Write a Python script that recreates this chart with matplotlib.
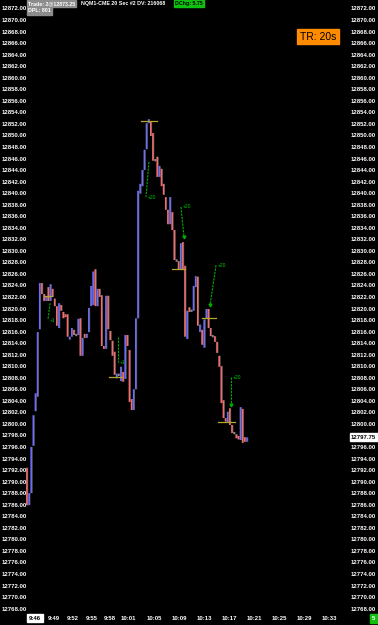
import matplotlib.pyplot as plt

# 20 second bars, NQM1-CME (open / close)
opens = [12792.5, 12786.0, 12788.1, 12796.3, 12802.3, 12804.8, 12816.5, 12824.5, 12822.6, 12821.4,
         12823.8, 12821.4, 12823.5, 12821.8, 12820.5, 12816.7, 12820.7, 12819.5, 12819.1, 12819.1,
         12814.7, 12815.2, 12816.4, 12815.5, 12815.5, 12818.4, 12811.9, 12815.7, 12815.0, 12816.0,
         12820.5, 12820.7, 12826.9, 12820.5, 12823.5, 12822.4, 12813.6, 12813.1, 12822.3, 12816.2,
         12814.5, 12812.6, 12808.0, 12808.6, 12807.5, 12809.1, 12807.9, 12815.5, 12812.9, 12804.4,
         12802.5, 12806.1, 12818.4, 12840.0, 12841.3, 12844.1, 12847.7, 12852.2, 12852.4, 12850.5,
         12846.0, 12846.4, 12842.9, 12844.3, 12841.7, 12839.4, 12837.2, 12834.7, 12836.8, 12833.7,
         12828.5, 12828.3, 12826.8, 12831.6, 12827.5, 12814.8, 12820.3, 12819.8, 12819.7, 12823.8,
         12825.6, 12816.0, 12816.4, 12813.3, 12818.4, 12820.0, 12816.7, 12815.5, 12815.3, 12814.3,
         12811.9, 12810.1, 12804.2, 12801.1, 12800.4, 12802.8, 12799.9, 12798.6, 12798.3, 12798.0,
         12797.3, 12802.7, 12797.8, 12797.0]
closes = [12786.0, 12788.1, 12796.1, 12801.6, 12805.4, 12816.0, 12824.5, 12822.6, 12821.4, 12822.2,
          12821.4, 12824.3, 12822.1, 12820.5, 12817.1, 12821.0, 12819.7, 12818.4, 12818.6, 12815.2,
          12815.2, 12816.7, 12815.5, 12815.3, 12818.3, 12811.9, 12815.0, 12815.0, 12815.7, 12820.2,
          12824.0, 12826.5, 12820.5, 12823.5, 12822.1, 12813.6, 12813.1, 12822.3, 12816.5, 12814.6,
          12811.9, 12808.6, 12808.8, 12808.4, 12810.0, 12807.4, 12815.5, 12813.6, 12803.9, 12802.5,
          12806.1, 12818.4, 12840.5, 12841.7, 12844.1, 12847.6, 12852.2, 12852.9, 12850.0, 12845.7,
          12845.6, 12842.9, 12844.8, 12841.3, 12839.8, 12837.2, 12834.7, 12839.4, 12833.7, 12828.5,
          12828.2, 12826.8, 12831.4, 12826.8, 12815.2, 12819.7, 12819.5, 12819.5, 12824.0, 12825.7,
          12817.1, 12817.3, 12813.8, 12818.2, 12820.0, 12816.7, 12815.3, 12815.1, 12814.3, 12812.4,
          12810.0, 12803.7, 12801.1, 12800.5, 12802.2, 12799.9, 12798.5, 12798.3, 12797.6, 12797.4,
          12803.0, 12796.8, 12797.0, 12797.75]

# working orders (price, first bar, last bar)
order_prices = [12822.3, 12808.2, 12852.6, 12826.9, 12818.4, 12800.4]
order_start = [8.0, 38.4, 53.4, 67.9, 81.9, 89.4]
order_end = [11.7, 44.5, 60.9, 74.0, 88.5, 97.4]

# trade markers: (bar, price) -> (bar, price), label
trade_from = [(10.8, 12821.0), (42.6, 12815.2), (57.1, 12845.5), (72.1, 12837.7), (88.5, 12827.6), (95.5, 12808.2)]
trade_to = [(9.8, 12818.1), (42.6, 12810.8), (55.7, 12839.4), (73.5, 12832.5), (85.7, 12820.7), (95.5, 12803.4)]
trade_labels = ['+1', '+1', '+20', '+20', '+20', '+20']

price_ticks = list(range(12768, 12873, 2))
time_labels = ['9:46', '9:49', '9:52', '9:55', '9:58', '10:01', '10:05', '10:09',
               '10:13', '10:17', '10:21', '10:25', '10:29', '10:33']
last_price = 12797.75

W, H = 378, 625
fig = plt.figure(figsize=(W / 100, H / 100), dpi=100, facecolor='black')
ax = fig.add_axes([0, 0, 1, 1], facecolor='black')
ax.set_axis_off()

px_per_bar = 2.136
px_per_point = 5.77
ax.set_xlim(-27 / px_per_bar, (W - 27) / px_per_bar)
ax.set_ylim(12872 - (H - 9) / px_per_point, 12872 + 9 / px_per_point)

font = 'Liberation Sans'
fs = 4.3

# bars: coloured body plus a grey line on its right side
for i, (o, c) in enumerate(zip(opens, closes)):
    if abs(c - o) < 0.5:
        col = '#8c8c8c'
    elif c > o:
        col = '#6e6ef5'
    else:
        col = '#f26e6e'
    lo, hi = min(o, c), max(o, c)
    if hi - lo < 0.4:
        hi = lo + 0.4
    ax.bar(i, hi - lo, bottom=lo, width=0.85, color=col, linewidth=0, zorder=3, snap=False)
    ax.vlines(i + 0.45, lo, hi, color='#6a6a6a', lw=0.35, zorder=3, snap=False)

# order lines
for p, s, e in zip(order_prices, order_start, order_end):
    ax.plot([s, e], [p, p], color='#b5a82a', lw=0.9, zorder=4)

# trade markers
for (x0, y0), (x1, y1), lab in zip(trade_from, trade_to, trade_labels):
    ax.plot([x0, x1], [y0, y1], color='#00b000', lw=0.8, ls=(0, (2, 1)), zorder=5)
    if lab == '+20' and x0 > 60:
        ax.plot(x1, y1, marker='v', color='#00b000', ms=2, zorder=5)
        ax.text(x0 + 1.0, y0, lab, color='#00c000', fontsize=3.6, family=font, va='center', ha='left')
    else:
        ax.text(x1 + 1.0, y1, lab, color='#00c000', fontsize=3.6, family=font, va='center', ha='left')

# price scales on both sides
ytr = ax.get_yaxis_transform()
for p in price_ticks:
    ax.text(2 / W, p, f'{p:.2f}', transform=ytr, color='white', fontsize=fs, family=font,
            fontweight='bold', va='center', ha='left')
    ax.text(351 / W, p, f'{p:.2f}', transform=ytr, color='white', fontsize=fs, family=font,
            fontweight='bold', va='center', ha='left')
ax.text(351 / W, last_price, f'{last_price:.2f}', transform=ytr, color='black', fontsize=fs,
        family=font, fontweight='bold', va='center', ha='left', zorder=10,
        bbox=dict(boxstyle='square,pad=0.25', fc='white', ec='white'))

# time scale
xtr = ax.get_xaxis_transform()
for k, lab in enumerate(time_labels):
    h, m = lab.split(':')
    minutes = (int(h) * 60 + int(m)) - (9 * 60 + 46)
    xpos = 3.75 + 2.93 * minutes
    if k == 0:
        ax.text(xpos, 1 - 618 / H, lab, transform=xtr, color='black', fontsize=fs, family=font,
                fontweight='bold', va='center', ha='center',
                bbox=dict(boxstyle='square,pad=0.25', fc='white', ec='white'))
    else:
        ax.text(xpos, 1 - 618 / H, lab, transform=xtr, color='white', fontsize=fs, family=font,
                fontweight='bold', va='center', ha='center')

# header
def fx(x):
    return x / W

def fy(y):
    return 1 - y / H

hfs = 3.8
fig.text(fx(28), fy(3.5), 'Trade: 2@12873.25', color='white', fontsize=hfs, family=font,
         fontweight='bold', va='center', ha='left',
         bbox=dict(boxstyle='square,pad=0.2', fc='#8c8c8c', ec='#8c8c8c'))
fig.text(fx(81), fy(3.5), 'NQM1-CME 20 Sec #2 DV: 216068', color='white', fontsize=hfs,
         family=font, fontweight='bold', va='center', ha='left')
fig.text(fx(175), fy(3.5), 'DChg: 5.75', color='black', fontsize=hfs, family=font,
         fontweight='bold', va='center', ha='left',
         bbox=dict(boxstyle='square,pad=0.2', fc='#10c010', ec='#10c010'))
fig.text(fx(28), fy(11), 'DPL: 801', color='white', fontsize=hfs, family=font,
         fontweight='bold', va='center', ha='left',
         bbox=dict(boxstyle='square,pad=0.2', fc='#8c8c8c', ec='#8c8c8c'))

fig.text(fx(318), fy(36.5), 'TR: 20s', color='black', fontsize=7.5, family=font,
         va='center', ha='center',
         bbox=dict(boxstyle='square,pad=0.25', fc='#ff8c00', ec='#ff8c00'))

fig.text(fx(373.5), fy(618.5), '5', color='white', fontsize=fs, family=font, fontweight='bold',
         va='center', ha='center',
         bbox=dict(boxstyle='square,pad=0.35', fc='#10c010', ec='#10c010'))

fig.savefig('out.png', dpi=100, facecolor='black')
